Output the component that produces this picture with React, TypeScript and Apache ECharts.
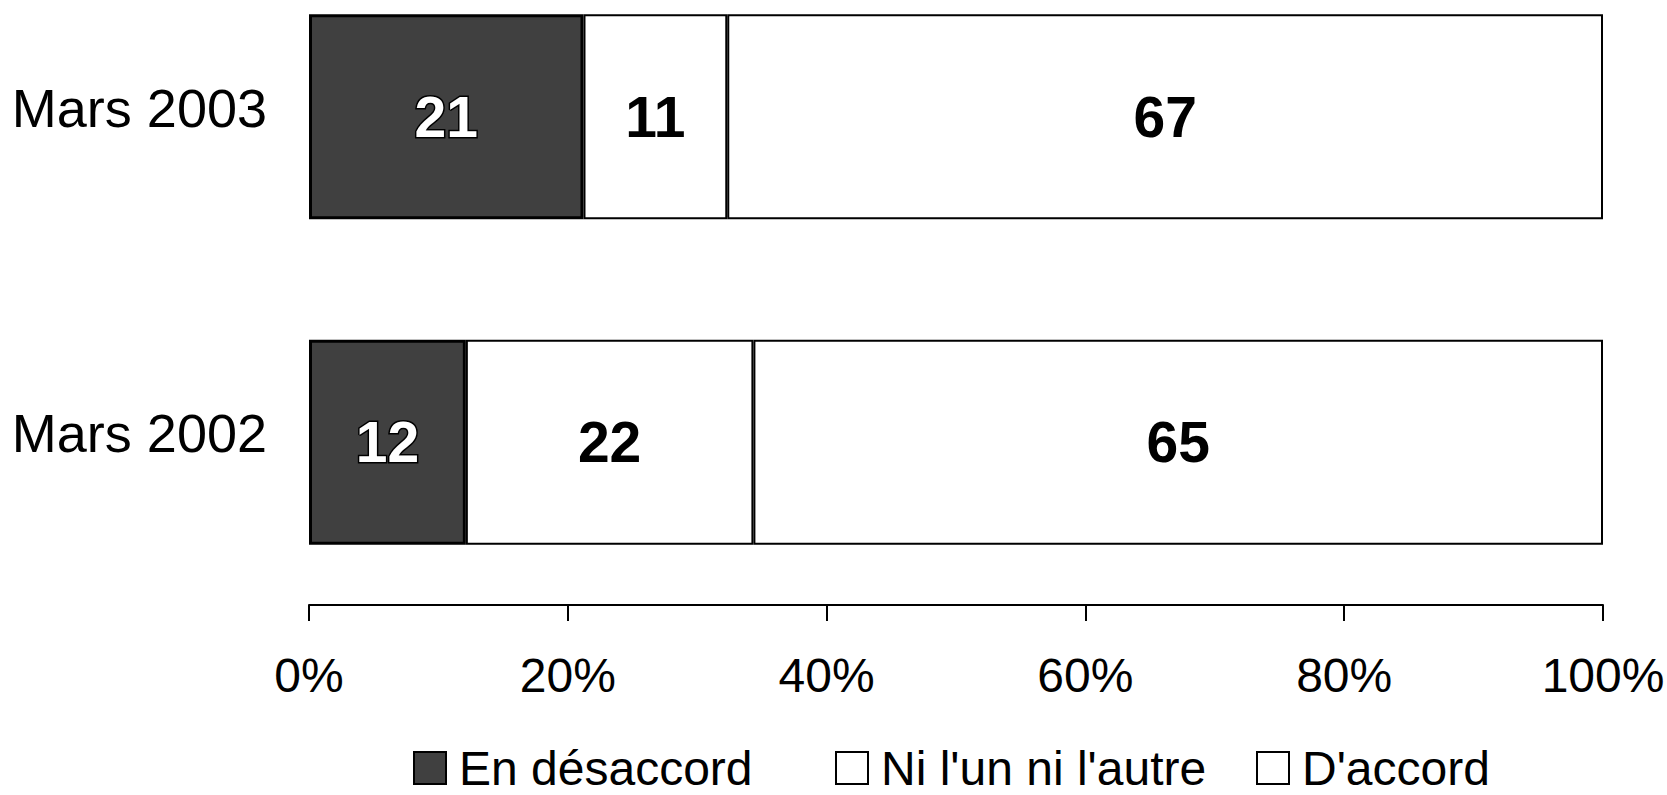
import React, { useEffect, useRef } from "react";
import * as echarts from "echarts";

const categories = ["Mars 2002", "Mars 2003"];
const seriesNames = ["En désaccord", "Ni l'un ni l'autre", "D'accord"];
const disagree = [12, 21];
const neither = [22, 11];
const agree = [65, 67];
const xTicks = [0, 20, 40, 60, 80, 100];

const FONT = "'Liberation Sans', Arial, Helvetica, sans-serif";

export default function App() {
  const ref = useRef<HTMLDivElement>(null);
  useEffect(() => {
    if (!ref.current) return;
    const chart = echarts.init(ref.current, undefined, { renderer: "svg" });
    const raw = [disagree, neither, agree];
    const totals = categories.map((_, i) => raw.reduce((s, arr) => s + arr[i], 0));
    const colors = ["#404040", "#ffffff", "#ffffff"];
    const borderW = [3, 2, 2];
    const series = raw.map((arr, si) => ({
      name: seriesNames[si],
      type: "bar",
      stack: "total",
      barWidth: 205,
      data: arr.map((v, i) => ({ value: (v / totals[i]) * 100, raw: v })),
      itemStyle: { color: colors[si], borderColor: "#000", borderWidth: borderW[si] },
      label: {
        show: true,
        position: "inside",
        formatter: (p: any) => String(p.data.raw),
        fontFamily: FONT,
        fontWeight: "bold",
        fontSize: 57,
        color: si === 0 ? "#fff" : "#000",
        textBorderColor: si === 0 ? "#000" : "transparent",
        textBorderWidth: si === 0 ? 3 : 0,
      },
    }));
    const legendPos = [413, 835, 1256];
    chart.setOption({
      animation: false,
      backgroundColor: "#fff",
      grid: { left: 309, right: 64, top: -46, height: 651, outerBoundsMode: "none", containLabel: false },
      xAxis: {
        type: "value",
        min: xTicks[0],
        max: xTicks[xTicks.length - 1],
        interval: 20,
        splitLine: { show: false },
        axisLine: { show: true, lineStyle: { color: "#000", width: 2 } },
        axisTick: { show: true, length: 16, lineStyle: { color: "#000", width: 2 } },
        axisLabel: {
          formatter: (v: number) => v + "%",
          fontFamily: FONT,
          fontSize: 48,
          color: "#000",
          margin: 46,
        },
      },
      yAxis: {
        type: "category",
        data: categories,
        axisLine: { show: false },
        axisTick: { show: false },
        axisLabel: {
          margin: 42,
          formatter: (v: string) => "{a|" + v + "}",
          rich: {
            a: { fontFamily: FONT, fontSize: 54, color: "#000", padding: [0, 0, 18, 0] },
          },
        },
      },
      legend: seriesNames.map((n, i) => ({
        data: [n],
        left: legendPos[i],
        top: 744,
        padding: 0,
        itemWidth: 32,
        itemHeight: 32,
        itemGap: 0,
        icon: "rect",
        selectedMode: false,
        textStyle: { fontFamily: FONT, fontSize: 48, color: "#000", padding: [0, 0, 0, 8] },
      })),
      series,
    });
    return () => chart.dispose();
  }, []);
  return (
    <div
      ref={ref}
      style={{ position: "absolute", left: 0, top: 0, width: 1667, height: 795 }}
    />
  );
}
